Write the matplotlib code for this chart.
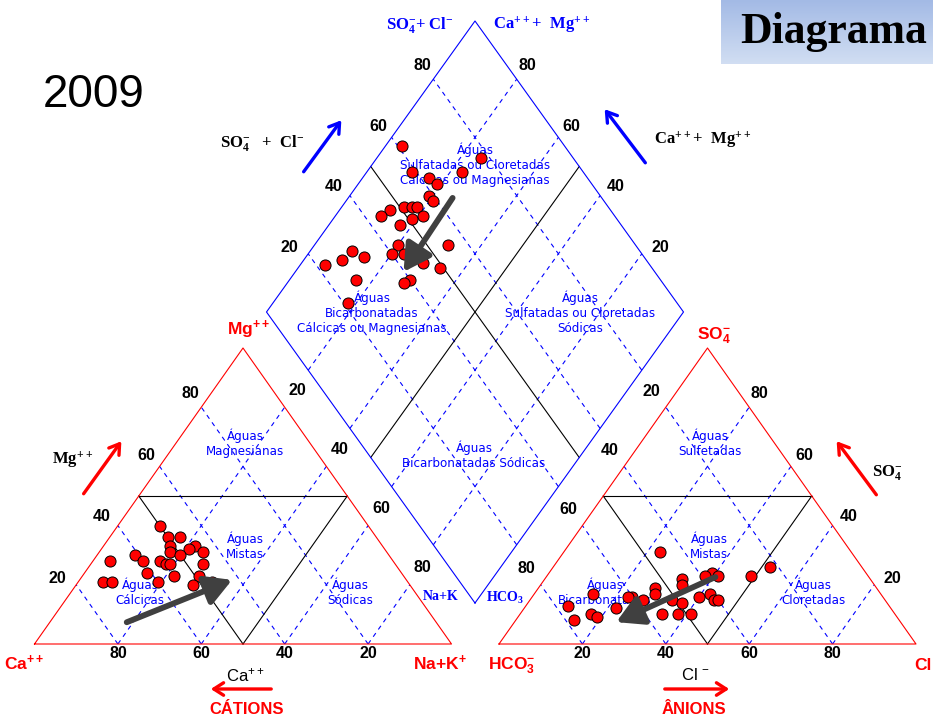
import numpy as np
import matplotlib
matplotlib.use('Agg')
import matplotlib.pyplot as plt
from matplotlib.patches import FancyArrowPatch

plt.rcParams['mathtext.default'] = 'regular'


### DATA ###

# cation triangle, % meq: Mg and Na+K (Ca is the rest)
cat_mg = [40, 36, 36, 33, 31, 33, 32, 30, 31, 27, 28, 27, 27, 30, 28, 28,
          24, 23, 23, 21, 21, 21, 20, 21, 20]
cat_na = [10, 14, 17, 16, 17, 22, 21, 20, 25, 27, 16, 18, 19, 9, 12, 4,
          15, 22, 28, 6, 8, 19, 28, 32, 34]

# anion triangle, % meq: SO4 and Cl (HCO3 is the rest)
an_so4 = [31, 24, 23, 23, 22, 20, 19, 17, 16, 16, 15, 15, 14, 16, 17, 15,
          15, 23, 26, 17, 13, 8, 10, 9, 12, 10, 10, 10]
an_cl = [23, 39, 41, 38, 33, 34, 28, 29, 24, 23, 27, 34, 37, 40, 42, 44,
         45, 49, 52, 14, 10, 14, 17, 19, 22, 34, 38, 41]

# diamond, %: SO4+Cl and Ca+Mg
dia_so4cl = [61, 78, 59, 71, 62, 63, 59, 59, 47, 44, 51, 53, 54, 54, 51, 47,
             43, 43, 40, 55, 31, 27, 33, 22, 46, 49, 27, 40, 38, 21]
dia_camg = [96, 75, 89, 77, 84, 81, 81, 79, 88, 89, 85, 83, 82, 79, 81, 83,
            80, 77, 80, 68, 90, 91, 86, 94, 71, 66, 84, 71, 72, 82]

# trend arrows (start, end)
cat_trend = ((7, 18), (22, 37))      # (Mg, Na+K)
dia_trend = ((65, 75), (39, 74))     # (SO4+Cl, Ca+Mg)
an_trend = ((23, 41), (7, 24))       # (SO4, Cl)

ticks = [20, 40, 60, 80]
year = '2009'


### GEOMETRY (pixels) ###

W, H = 417.0, 296.0
Y0 = 644.0
XL, XR = 34.5, 499.0
DBX, DBY, DW, DH = 475.0, 603.0, 208.5, 291.0


def cat_xy(mg, na):
    mg, na = np.asarray(mg) / 100, np.asarray(na) / 100
    return XL + W * (na + mg / 2), Y0 - H * mg


def an_xy(so4, cl):
    so4, cl = np.asarray(so4) / 100, np.asarray(cl) / 100
    return XR + W * (cl + so4 / 2), Y0 - H * so4


def dia_xy(a, c):
    a, c = np.asarray(a) / 100, np.asarray(c) / 100
    return DBX + DW * (a - c), DBY - DH * (a + c)


fig = plt.figure(figsize=(9.33, 7.19), dpi=100)
ax = fig.add_axes([0, 0, 1, 1])
ax.set_xlim(0, 933)
ax.set_ylim(719, 0)
ax.set_axis_off()

BLUE = '#0000ff'
RED = '#ff0000'
dash = dict(color=BLUE, lw=0.8, ls=(0, (4, 4)))


def seg(fn, p, q, **kw):
    x0, y0 = fn(*p)
    x1, y1 = fn(*q)
    ax.plot([x0, x1], [y0, y1], **kw)


def triangle(fn):
    # outline, dashed grid, medial triangle
    for k in ticks:
        seg(fn, (0, 100 - k), (100 - k, 0), **dash)
        seg(fn, (0, k), (100 - k, k), **dash)
    seg(fn, (50, 0), (50, 50), color='black', lw=0.8)
    seg(fn, (50, 0), (0, 50), color='black', lw=0.8)
    seg(fn, (50, 50), (0, 50), color='black', lw=0.8)
    xs, ys = fn([0, 0, 100, 0], [0, 100, 0, 0])
    ax.plot(xs, ys, color=RED, lw=0.8)


triangle(cat_xy)
triangle(an_xy)

# diamond
for k in ticks:
    seg(dia_xy, (k, 0), (k, 100), **dash)
    seg(dia_xy, (0, k), (100, k), **dash)
seg(dia_xy, (50, 0), (50, 100), color='black', lw=0.8)
seg(dia_xy, (0, 50), (100, 50), color='black', lw=0.8)
xs, ys = dia_xy([0, 100, 100, 0, 0], [0, 0, 100, 100, 0])
ax.plot(xs, ys, color=BLUE, lw=0.8)

# tick numbers
num = dict(fontsize=11.5, fontweight='bold', family='Liberation Sans',
           ha='center', va='center')
for k in ticks:
    f = k / 100
    lx, ly = -21 + 13 * f, -4 - 12 * f
    x, y = cat_xy(k, 0)
    ax.text(x + lx, y + ly, str(k), **num)
    x, y = cat_xy(0, 100 - k)
    ax.text(x, y + 10, str(k), **num)
    x, y = cat_xy(100 - k, k)
    ax.text(x + 13, y - 17, str(k), **num)
    x, y = an_xy(0, k)
    ax.text(x, y + 10, str(k), **num)
    x, y = an_xy(100 - k, 0)
    ax.text(x - 14, y - 16, str(k), **num)
    x, y = an_xy(k, 100 - k)
    ax.text(x - lx, y + ly, str(k), **num)
    x, y = dia_xy(k, 100)
    ax.text(x + lx, y + ly, str(k), **num)
    x, y = dia_xy(100, k)
    ax.text(x - lx, y + ly, str(k), **num)

# region names
reg = dict(fontsize=8.6, color=BLUE, ha='center', va='center',
           linespacing=1.2, family='DejaVu Sans')
ax.text(245, 443, 'Águas\nMagnesianas', **reg)
ax.text(245, 546, 'Águas\nMistas', **reg)
ax.text(140, 592, 'Águas\nCálcicas', **reg)
ax.text(350, 592, 'Águas\nSódicas', **reg)
ax.text(710, 443, 'Águas\nSulfetadas', **reg)
ax.text(709, 546, 'Águas\nMistas', **reg)
ax.text(605, 592, 'Águas\nBicarbonatadas', **reg)
ax.text(813, 592, 'Águas\nCloretadas', **reg)
ax.text(475, 165, 'Águas\nSulfatadas ou Cloretadas\nCálcicas ou Magnesianas', **reg)
ax.text(372, 313, 'Águas\nBicarbonatadas\nCálcicas ou Magnesianas', **reg)
ax.text(580, 313, 'Águas\nSulfatadas ou Cloretadas\nSódicas', **reg)
ax.text(474, 455, 'Águas\nBicarbonatadas Sódicas', **reg)

# corner labels
corner = dict(fontsize=12.5, fontweight='bold', color=RED,
              family='Liberation Sans', ha='center', va='center')
ax.text(24, 663, 'Ca$^{++}$', **corner)
ax.text(440, 663, 'Na+K$^{+}$', **corner)
ax.text(249, 330, 'Mg$^{++}$', **corner)
ax.text(512, 666, 'HCO$_3^{-}$', **corner)
ax.text(932, 665, 'Cl', **dict(corner, ha='right'))
ax.text(714, 336, 'SO$_4^{-}$', **corner)

serif_b = dict(fontsize=12, fontweight='bold', family='Liberation Serif',
               ha='center', va='center')
ax.text(420, 25, 'SO$_4^{-}$+ Cl$^{-}$', color=BLUE, **serif_b)
ax.text(542, 25, 'Ca$^{++}$+  Mg$^{++}$', color=BLUE, **serif_b)
ax.text(262, 143, 'SO$_4^{-}$   +  Cl$^{-}$', color='black', **serif_b)
ax.text(703, 140, 'Ca$^{++}$+  Mg$^{++}$', color='black', **serif_b)
ax.text(73, 460, 'Mg$^{++}$', color='black', **serif_b)
ax.text(887, 473, 'SO$_4^{-}$', color='black', **serif_b)
ax.text(441, 597, 'Na+K', color=BLUE, **dict(serif_b, fontsize=10))
ax.text(505, 598, 'HCO$_3$', color=BLUE, **dict(serif_b, fontsize=10))

sans = dict(fontsize=12, family='Liberation Sans', ha='center', va='center')
ax.text(245, 675, 'Ca$^{++}$', color='black', **sans)
ax.text(695, 675, 'Cl $^{-}$', color='black', **sans)
ax.text(247, 710, 'CÁTIONS', color=RED, fontweight='bold', **sans)
ax.text(694, 710, 'ÂNIONS', color=RED, fontweight='bold', **sans)


def axis_arrow(p, q, color):
    ax.add_patch(FancyArrowPatch(p, q, arrowstyle='->,head_length=7,head_width=4.5',
                                 color=color, lw=2.4, mutation_scale=1))


axis_arrow((302, 174), (343, 118), BLUE)
axis_arrow((647, 165), (603, 107), BLUE)
axis_arrow((82, 496), (123, 439), RED)
axis_arrow((878, 497), (835, 439), RED)
axis_arrow((274, 689), (208, 689), RED)
axis_arrow((662, 689), (732, 689), RED)

# samples
dot = dict(s=64, c=RED, edgecolors='black', linewidths=0.7, zorder=5)
ax.scatter(*cat_xy(cat_mg, cat_na), **dot)
ax.scatter(*an_xy(an_so4, an_cl), **dot)
ax.scatter(*dia_xy(dia_so4cl, dia_camg), **dot)


def trend(fn, tr):
    p = fn(*tr[0])
    q = fn(*tr[1])
    ax.add_patch(FancyArrowPatch(p, q, arrowstyle='-|>,head_length=16,head_width=9',
                                 color='#404040', lw=4.2, mutation_scale=1,
                                 capstyle='round', zorder=6))


trend(cat_xy, cat_trend)
trend(dia_xy, dia_trend)
trend(an_xy, an_trend)

ax.text(94, 95, year, fontsize=33, family='Liberation Sans',
        ha='center', va='center')

# header box
hax = fig.add_axes([721 / 933, 1 - 64 / 719, 212 / 933, 64 / 719])
grad = np.linspace(0, 1, 64)[:, None]
top = np.array([0.64, 0.73, 0.90])
bot = np.array([0.82, 0.87, 0.95])
img = top[None, None, :] * (1 - grad[:, :, None]) + bot[None, None, :] * grad[:, :, None]
hax.imshow(np.repeat(img, 4, axis=1), aspect='auto', extent=(0, 1, 0, 1))
hax.set_axis_off()
hax.text(0.09, 0.5, 'Diagrama', fontsize=31.5, fontweight='bold',
         family='Liberation Serif', ha='left', va='center',
         transform=hax.transAxes)

fig.savefig('out.png', dpi=100)
